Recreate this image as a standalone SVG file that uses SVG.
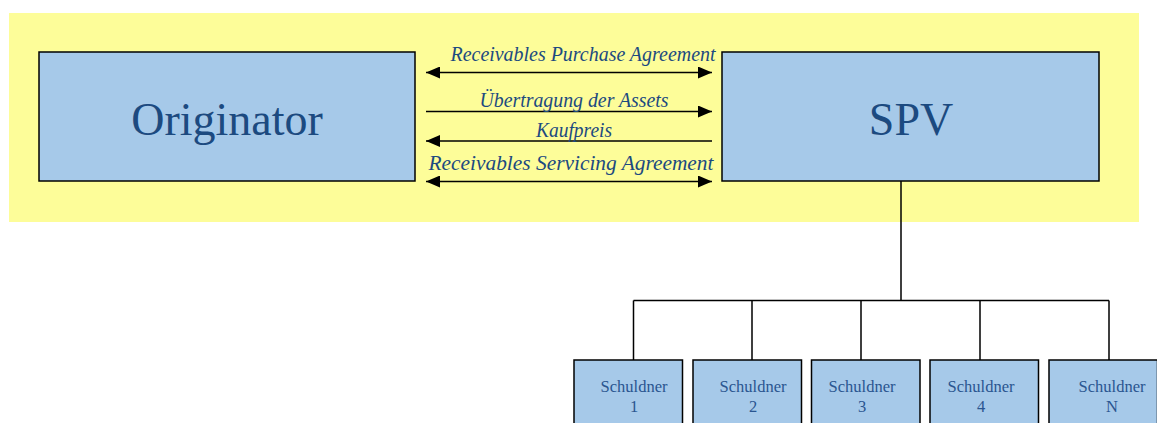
<svg xmlns="http://www.w3.org/2000/svg" width="1157" height="423" viewBox="0 0 1157 423">
  <defs>
    <style>
      .box { fill: #A6C9E9; stroke: #000; stroke-width: 1.5; }
      .big { font-family: "Liberation Serif", "Times New Roman", serif; font-size: 46px; fill: #1C4A80; text-anchor: middle; }
      .lbl { font-family: "Liberation Serif", "Times New Roman", serif; font-style: italic; font-size: 20px; fill: #1C4A80; text-anchor: middle; }
      .small { font-family: "Liberation Serif", "Times New Roman", serif; font-size: 16.5px; fill: #2A5590; text-anchor: middle; }
      .arrow { stroke: #000; stroke-width: 1.5; fill: none; }
      .tree { stroke: #000; stroke-width: 1.5; fill: none; }
    </style>
    <marker id="ah" viewBox="0 0 14 12" refX="14" refY="6" markerWidth="14" markerHeight="12" markerUnits="userSpaceOnUse" orient="auto-start-reverse">
      <path d="M0,0 L14,6 L0,12 Z" fill="#000"/>
    </marker>
  </defs>
  <rect x="0" y="0" width="1157" height="423" fill="#fff"/>
  <rect id="background" x="9" y="13" width="1130" height="209" fill="#FDFD99"/>

  <g id="originator">
    <rect class="box" x="39" y="52" width="376" height="129"/>
    <text class="big" x="227" y="135">Originator</text>
  </g>
  <g id="spv">
    <rect class="box" x="722" y="52" width="377" height="129"/>
    <text class="big" x="911" y="135">SPV</text>
  </g>

  <g id="connectors">
    <line class="arrow" x1="426" y1="72.5" x2="712" y2="72.5" marker-start="url(#ah)" marker-end="url(#ah)"/>
    <line class="arrow" x1="426" y1="111.5" x2="712" y2="111.5" marker-end="url(#ah)"/>
    <line class="arrow" x1="712" y1="141" x2="426" y2="141" marker-end="url(#ah)"/>
    <line class="arrow" x1="426" y1="181.5" x2="712" y2="181.5" marker-start="url(#ah)" marker-end="url(#ah)"/>
    <path class="tree" d="M901,181 V300.5 M633.5,300.5 H1109 M633.5,300.5 V360 M752,300.5 V360 M861,300.5 V360 M980,300.5 V360 M1109,300.5 V360"/>
  </g>
  <g id="connector-labels">
    <text class="lbl" x="583" y="61" textLength="265" lengthAdjust="spacingAndGlyphs">Receivables Purchase Agreement</text>
    <text class="lbl" x="574" y="107" textLength="189" lengthAdjust="spacingAndGlyphs">Übertragung der Assets</text>
    <text class="lbl" x="574" y="137" textLength="76" lengthAdjust="spacingAndGlyphs">Kaufpreis</text>
    <text class="lbl" x="571" y="170" textLength="285" lengthAdjust="spacingAndGlyphs">Receivables Servicing Agreement</text>
  </g>

  <g id="schuldner1">
    <rect class="box" x="574" y="360" width="108.5" height="80"/>
    <text class="small" x="634" y="392">Schuldner</text>
    <text class="small" x="634" y="412">1</text>
  </g>
  <g id="schuldner2">
    <rect class="box" x="693" y="360" width="108.5" height="80"/>
    <text class="small" x="753" y="392">Schuldner</text>
    <text class="small" x="753" y="412">2</text>
  </g>
  <g id="schuldner3">
    <rect class="box" x="811.5" y="360" width="108.5" height="80"/>
    <text class="small" x="862" y="392">Schuldner</text>
    <text class="small" x="862" y="412">3</text>
  </g>
  <g id="schuldner4">
    <rect class="box" x="930" y="360" width="108.5" height="80"/>
    <text class="small" x="981" y="392">Schuldner</text>
    <text class="small" x="981" y="412">4</text>
  </g>
  <g id="schuldnerN">
    <rect class="box" x="1049" y="360" width="108.5" height="80"/>
    <text class="small" x="1112" y="392">Schuldner</text>
    <text class="small" x="1112" y="412">N</text>
  </g>
</svg>
